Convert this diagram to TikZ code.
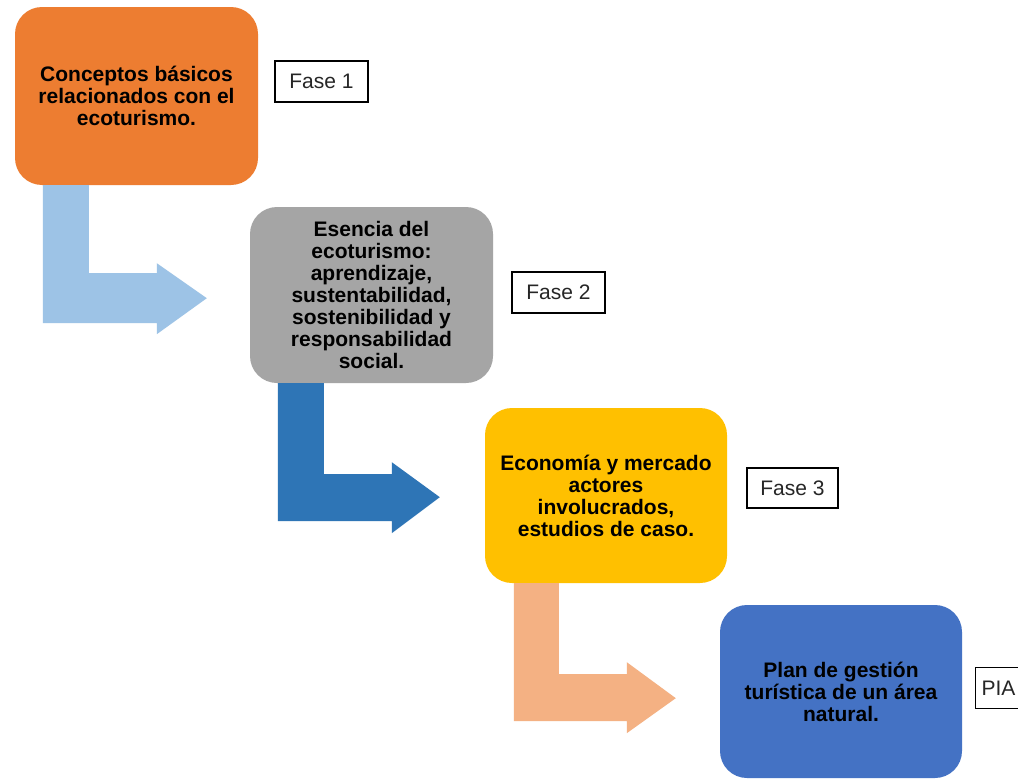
\documentclass[tikz,border=0pt]{standalone}
\usepackage{fontspec}
\setmainfont{Liberation Sans}
\usetikzlibrary{calc}
\definecolor{corange}{HTML}{ED7D31}
\definecolor{cgray}{HTML}{A5A5A5}
\definecolor{cyellow}{HTML}{FFC000}
\definecolor{cblue}{HTML}{4472C4}
\definecolor{clight}{HTML}{9DC3E6}
\definecolor{cdark}{HTML}{2E75B6}
\definecolor{cpeach}{HTML}{F4B183}
\begin{document}
\begin{tikzpicture}[x=1pt,y=-1pt,
  phase/.style={rounded corners=27pt, minimum width=243pt, minimum height=177pt,
    inner sep=0pt, align=center, font=\bfseries\fontsize{21}{22}\selectfont, text=black},
  tag/.style={draw=black, line width=1.2pt, fill=white, minimum width=93pt,
    minimum height=41pt, inner sep=0pt, font=\fontsize{21}{24}\selectfont, text=black!85}]
\fill[white] (0,0) rectangle (1018,779);
\useasboundingbox (0,0) rectangle (1018,779);
\clip (0,0) rectangle (1018,779);

% phase boxes
\node[phase, fill=corange, minimum height=178pt] (p1) at (136.5,96)
  {Conceptos básicos\\relacionados con el\\ecoturismo.};
\node[phase, fill=cgray, minimum height=176pt] (p2) at (371.5,295)
  {Esencia del\\ecoturismo:\\aprendizaje,\\sustentabilidad,\\sostenibilidad y\\responsabilidad\\social.};
\node[phase, fill=cyellow, minimum width=242pt, minimum height=175pt] (p3) at (606,495.5)
  {Economía y mercado\\actores\\involucrados,\\estudios de caso.};
\node[phase, fill=cblue, minimum width=242pt, minimum height=173pt] (p4) at (841,691.5)
  {Plan de gestión\\turística de un área\\natural.};

% bent block arrows
\fill[clight] ($(p1.south west)+(28,0)$) -- ++(46,0) -- ++(0,88) -- ++(68,0) -- ++(0,-10)
  -- ++(50,35) -- ++(-50,36) -- ++(0,-11) -- ++(-114,0) -- cycle;
\fill[cdark] ($(p2.south west)+(28,0)$) -- ++(46,0) -- ++(0,91) -- ++(68,0) -- ++(0,-12)
  -- ++(48,35) -- ++(-48,36) -- ++(0,-12) -- ++(-114,0) -- cycle;
\fill[cpeach] ($(p3.south west)+(29,0)$) -- ++(45,0) -- ++(0,91) -- ++(68,0) -- ++(0,-12)
  -- ++(49,36) -- ++(-49,35) -- ++(0,-12) -- ++(-113,0) -- cycle;

% phase tags
\node[tag] (t1) at (321.5,81.5) {Fase 1};
\node[tag] (t2) at (558.5,292.5) {Fase 2};
\node[tag, minimum width=91pt, minimum height=40pt] (t3) at (792.5,488) {Fase 3};
\node[tag, anchor=west, minimum width=0pt, text width=50pt, align=left, inner xsep=6pt] (t4) at (975,688) {PIA};
\end{tikzpicture}
\end{document}
